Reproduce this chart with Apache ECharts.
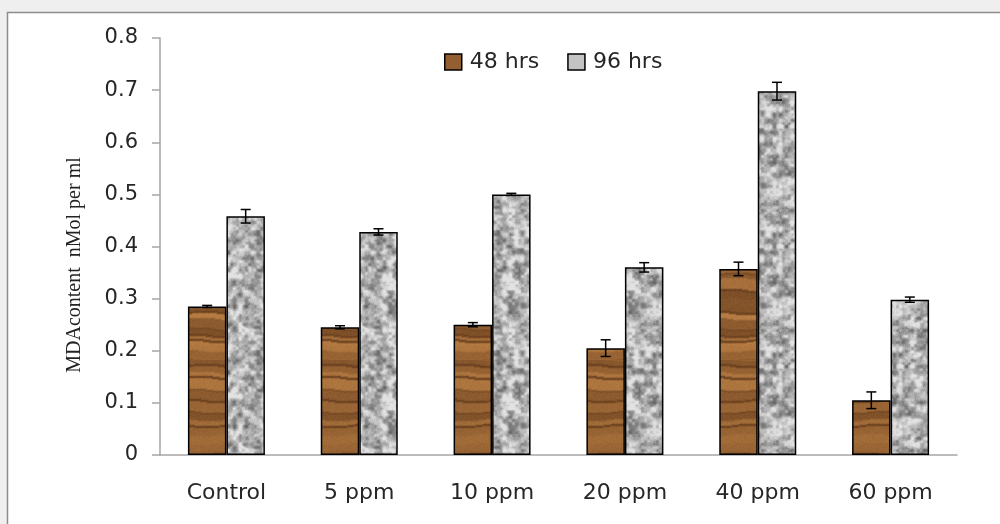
<!DOCTYPE html>
<html>
<head>
<meta charset="utf-8">
<script src="https://cdn.jsdelivr.net/npm/echarts@6/dist/echarts.min.js"></script>
<style>
html,body{margin:0;padding:0;background:#efefef;}
#chart{width:1000px;height:524px;}
</style>
</head>
<body>
<div id="chart"></div>
<script>
// ---- data ----
var categories = ['Control', '5 ppm', '10 ppm', '20 ppm', '40 ppm', '60 ppm'];
var seriesNames = ['48 hrs', '96 hrs'];
var values48 = [0.285, 0.245, 0.250, 0.205, 0.357, 0.105];
var errors48 = [0.002, 0.003, 0.004, 0.016, 0.013, 0.016];
var values96 = [0.458, 0.428, 0.500, 0.360, 0.698, 0.298];
var errors96 = [0.013, 0.006, 0.002, 0.009, 0.017, 0.005];
var yTicks = [0, 0.1, 0.2, 0.3, 0.4, 0.5, 0.6, 0.7, 0.8];
var yAxisTitle = 'MDAcontent  nMol per ml';

// ---- textures (deterministic) ----
function prng(seed){ return function(){ seed = (seed * 1664525 + 1013904223) >>> 0; return seed / 4294967296; }; }
function woodTexture(){
  var w = 64, h = 180, c = document.createElement('canvas'); c.width = w; c.height = h;
  var ctx = c.getContext('2d'), img = ctx.createImageData(w, h), r = prng(21);
  var rows = new Array(h), y = 0;
  while (y < h) {
    var t = 3 + Math.floor(r()*10), tone = 0.3 + r()*0.65;
    for (var k = 0; k < t && y < h; k++, y++) rows[y] = tone;
    if (r() < 0.6 && y < h) { rows[y] = 0.0 + r()*0.15; y++; if (r() < 0.5 && y < h) { rows[y] = 0.1; y++; } }
  }
  var sm = [];
  for (var y = 0; y < h; y++) sm.push((rows[(y-1+h)%h] + 2*rows[y] + rows[(y+1)%h]) / 4);
  for (var y = 0; y < h; y++) {
    for (var x = 0; x < w; x++) {
      var yy = (y + Math.round(1.5*Math.sin(x*2*Math.PI/64 + y*0.05)) + h) % h;
      var v = sm[yy] + (r()-0.5)*0.12;
      v = Math.max(0, Math.min(1, v));
      var i = (y*w + x)*4;
      img.data[i]   = 95 + v*95;
      img.data[i+1] = 55 + v*75;
      img.data[i+2] = 25 + v*45;
      img.data[i+3] = 255;
    }
  }
  ctx.putImageData(img, 0, 0);
  return c;
}
function graniteTexture(){
  var w = 120, h = 120, c = document.createElement('canvas'); c.width = w; c.height = h;
  var ctx = c.getContext('2d'), r = prng(13);
  function layer(g){
    var grid = []; for (var i = 0; i < g*g; i++) grid.push(r());
    return function(x, y){
      var s = w/g, fx = x/s, fy = y/s, ix = Math.floor(fx), iy = Math.floor(fy), tx = fx-ix, ty = fy-iy;
      tx = tx*tx*(3-2*tx); ty = ty*ty*(3-2*ty);
      function at(a, b){ return grid[((b+g)%g)*g + ((a+g)%g)]; }
      return at(ix,iy)*(1-tx)*(1-ty) + at(ix+1,iy)*tx*(1-ty) + at(ix,iy+1)*(1-tx)*ty + at(ix+1,iy+1)*tx*ty;
    };
  }
  var L1 = layer(20), L2 = layer(40);
  var img = ctx.createImageData(w, h);
  for (var y = 0; y < h; y++) for (var x = 0; x < w; x++) {
    var v = 0.6*L1(x, y) + 0.4*L2(x, y) + (r()-0.5)*0.1;
    v = (v - 0.5) * 1.5 + 0.6;
    var gray = 105 + Math.max(0, Math.min(1, v))*120;
    var i = (y*w + x)*4;
    img.data[i] = img.data[i+1] = img.data[i+2] = gray; img.data[i+3] = 255;
  }
  ctx.putImageData(img, 0, 0);
  return c;
}
var woodPat = {image: woodTexture(), repeat: 'repeat'};
var granPat = {image: graniteTexture(), repeat: 'repeat'};

var BAR_W = 38.5;
function errorSeries(vals, errs, side){
  return {
    type: 'custom',
    silent: true,
    z: 10,
    data: vals.map(function(v, i){ return [i, v, errs[i]]; }),
    renderItem: function(params, api){
      var i = api.value(0), v = api.value(1), e = api.value(2);
      var top = api.coord([i, v + e]), bot = api.coord([i, v - e]);
      var x = top[0] + side * BAR_W / 2;
      var cap = 5;
      var st = {stroke: '#000', lineWidth: 1.5};
      return {type: 'group', children: [
        {type: 'line', shape: {x1: x, y1: top[1], x2: x, y2: bot[1]}, style: st},
        {type: 'line', shape: {x1: x-cap, y1: top[1], x2: x+cap, y2: top[1]}, style: st},
        {type: 'line', shape: {x1: x-cap, y1: bot[1], x2: x+cap, y2: bot[1]}, style: st}
      ]};
    }
  };
}

var chart = echarts.init(document.getElementById('chart'), null, {renderer: 'canvas'});
chart.setOption({
  backgroundColor: '#efefef',
  animation: false,
  graphic: [
    {type: 'rect', shape: {x: 7.5, y: 12.5, width: 1100, height: 600}, style: {fill: '#fff', stroke: '#8c8c8c', lineWidth: 1.5}, z: -10},
    {type: 'text', x: 75, y: 265, rotation: Math.PI/2, style: {text: yAxisTitle, font: '20px "Liberation Serif"', fill: '#222', align: 'center', verticalAlign: 'middle'}}
  ],
  legend: {
    left: 439, top: 46,
    itemWidth: 17, itemHeight: 16, itemGap: 28,
    textStyle: {fontFamily: 'DejaVu Sans', fontSize: 22, color: '#262626', padding: [0, 0, 0, 3]},
    data: [
      {name: seriesNames[0], icon: 'rect', itemStyle: {color: '#935e30', borderColor: '#000', borderWidth: 1.5}},
      {name: seriesNames[1], icon: 'rect', itemStyle: {color: '#c4c4c4', borderColor: '#000', borderWidth: 1.5}}
    ]
  },
  grid: {left: 160, right: 43, top: 38, bottom: 69},
  xAxis: {
    type: 'category', data: categories,
    axisLine: {lineStyle: {color: '#a6a6a6', width: 1.5}},
    axisTick: {alignWithLabel: false, length: 9, lineStyle: {color: '#a6a6a6', width: 1.5}},
    axisLabel: {fontFamily: 'DejaVu Sans', fontSize: 22, color: '#262626', margin: 27}
  },
  yAxis: {
    type: 'value', min: 0, max: 0.8, interval: 0.1,
    axisLine: {show: true, lineStyle: {color: '#a6a6a6', width: 1.5}},
    axisTick: {show: true, length: 8, lineStyle: {color: '#a6a6a6', width: 1.5}},
    splitLine: {show: false},
    axisLabel: {fontFamily: 'DejaVu Sans', fontSize: 21, color: '#262626', margin: 22,
      formatter: function(v){ var t = yTicks.filter(function(k){ return Math.abs(k - v) < 1e-9; }); return t.length ? String(t[0]) : ''; }}
  },
  series: [
    {name: seriesNames[0], type: 'bar', data: values48, barWidth: BAR_W, barGap: '0%',
      itemStyle: {color: woodPat, borderColor: '#000', borderWidth: 1.5}},
    {name: seriesNames[1], type: 'bar', data: values96, barWidth: BAR_W, barGap: '0%',
      itemStyle: {color: granPat, borderColor: '#000', borderWidth: 1.5}},
    errorSeries(values48, errors48, -1),
    errorSeries(values96, errors96, 1)
  ]
});
</script>
</body>
</html>
